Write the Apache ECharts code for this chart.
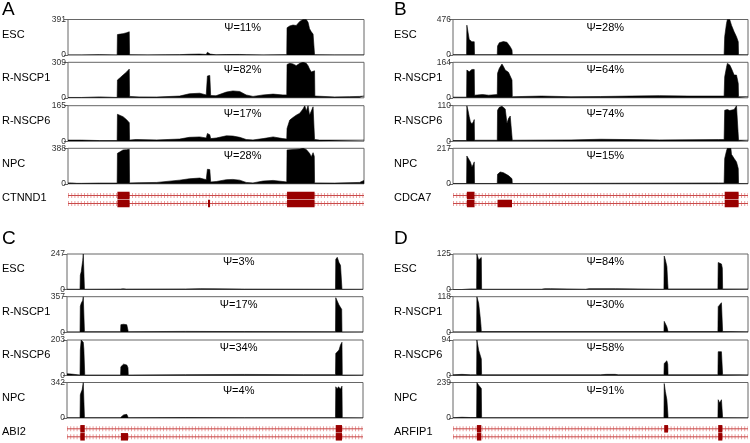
<!DOCTYPE html>
<html><head><meta charset="utf-8">
<script src="https://cdn.jsdelivr.net/npm/echarts@6/dist/echarts.min.js"></script>
<style>html,body{margin:0;padding:0;background:#fff}#c{width:750px;height:443px}</style>
</head><body><div id="c"></div>
<script>
// ---------- DATA ----------
const trackNames = ['ESC','R-NSCP1','R-NSCP6','NPC'];
const panelLetters = ['A','B','C','D'];
const geneNames = ['CTNND1','CDCA7','ABI2','ARFIP1'];
const maxA = [391,309,165,388];
const maxB = [476,164,110,217];
const maxC = [247,357,203,342];
const maxD = [125,118,94,239];
const psiA = ['Ψ=11%','Ψ=82%','Ψ=17%','Ψ=28%'];
const psiB = ['Ψ=28%','Ψ=64%','Ψ=74%','Ψ=15%'];
const psiC = ['Ψ=3%','Ψ=17%','Ψ=34%','Ψ=4%'];
const psiD = ['Ψ=84%','Ψ=30%','Ψ=58%','Ψ=91%'];

// coverage [position %, reads]
const covA_ESC = [[0,0],[4.5,0],[4.6,4],[10.6,4],[10.7,0],[16.6,0],[16.7,225],[17.6,230],[18.6,235],[19.8,245],[20.7,256],[20.8,2],[27,1],[33,2],[37.7,4],[41,8],[44.5,10],[46.7,6],[47.1,30],[47.4,25],[48,10],[48.2,3],[50,2],[53.5,5],[58,6],[60.2,4],[60.3,0],[65.9,0],[66,3],[72.6,3],[73.9,3],[74,300],[74.9,320],[76,330],[77.1,325],[78.3,370],[79.4,391],[80.5,391],[81.1,360],[81.6,290],[82.2,255],[82.5,270],[82.8,230],[83.2,235],[83.3,2],[90,1],[100,1]];
const covA_RN1 = [[0,3],[4.5,3],[5,8],[10.7,8],[11,3],[16.6,3],[16.7,155],[17.6,175],[18.6,198],[19.8,225],[20.7,250],[20.8,12],[24,8],[30,7],[37.7,15],[41,35],[44.5,40],[46.7,25],[47.1,190],[47.4,200],[47.9,195],[48.2,20],[50,18],[53.5,50],[55.7,60],[58,55],[60.2,25],[62.5,12],[65.9,25],[69.3,32],[72.6,25],[73.9,25],[74,290],[74.9,300],[76,295],[77.1,280],[78.3,300],[79.4,309],[80.5,300],[81.1,280],[81.6,250],[82.2,225],[82.8,240],[83.3,235],[83.4,15],[90,8],[95,10],[98.5,12],[100,15]];
const covA_RN6 = [[0,5],[4.5,5],[10.7,3],[16.6,3],[16.7,125],[17.6,120],[18.6,114],[19.8,100],[20.7,86],[20.8,5],[23,8],[30,6],[37.7,10],[41,18],[44.5,20],[46.7,15],[47.1,36],[47.9,30],[48.2,12],[50.1,15],[53.5,25],[55.7,24],[58,18],[60.2,8],[62.5,6],[65.9,12],[69.3,20],[72.6,12],[73.9,10],[74,59],[74.9,98],[76,110],[77.1,121],[78.3,130],[79.4,150],[80,165],[80.5,140],[81.1,165],[81.6,121],[82.2,130],[82.8,160],[83.2,160],[83.3,8],[85,5],[100,5]];
const covA_NPC = [[0,10],[1.1,10],[3,5],[4.5,5],[10.7,8],[16.6,8],[16.7,333],[17.6,350],[18.6,370],[19.8,372],[20.7,377],[20.8,10],[24,12],[30,15],[37.7,40],[41,55],[44.5,63],[46.7,45],[47.1,159],[47.9,155],[48.2,20],[50.1,25],[53.5,45],[55.7,48],[58,40],[60.2,15],[62.5,10],[65.9,30],[69.3,37],[72.6,25],[73.9,20],[74,370],[76,375],[78.3,380],[79.4,388],[80.5,375],[81.1,360],[81.6,333],[82.2,296],[82.8,340],[83.2,300],[83.3,10],[90,8],[98.5,15],[100,37]];

const covB_ESC = [[0,3],[4.6,3],[4.7,400],[5.1,380],[5.5,209],[5.9,230],[6.4,178],[6.9,190],[7.2,178],[7.3,3],[15,3],[15.1,120],[15.7,165],[16,178],[17.1,180],[17.7,175],[18.3,170],[18.8,150],[19.4,111],[20,67],[20.1,3],[91.9,3],[92.1,245],[92.7,420],[93,476],[93.8,476],[94.4,400],[95.3,311],[96.1,245],[96.7,178],[96.8,3],[100,3]];
const covB_RN1 = [[0,3],[4.6,3],[4.7,128],[5.5,120],[5.9,115],[6.4,131],[7.2,131],[7.3,12],[10,15],[12.1,12],[15,15],[15.1,113],[15.7,136],[16.6,156],[17.1,145],[17.7,128],[18.3,120],[18.8,118],[19.4,115],[20,82],[20.1,5],[30,8],[40,5],[50,6],[60,8],[70,10],[80,8],[91.9,8],[92.1,97],[92.7,140],[93,159],[93.8,152],[94.4,135],[95.3,105],[96.1,105],[96.7,66],[96.8,5],[100,5]];
const covB_RN6 = [[0,2],[4.6,2],[4.7,110],[5.1,95],[5.5,76],[5.9,60],[6.4,53],[6.9,60],[7.2,67],[7.3,3],[15,3],[15.1,96],[15.7,105],[16.6,108],[17.1,105],[17.7,100],[18.3,55],[18.8,70],[19.4,78],[20,78],[20.1,3],[40,4],[50,6],[60,5],[70,4],[90,5],[91.9,5],[92.1,96],[93,98],[93.8,95],[94.4,91],[95.3,98],[96.1,110],[96.7,107],[96.8,3],[100,3]];
const covB_NPC = [[0,2],[4.6,2],[4.7,170],[5.1,160],[5.9,134],[6.4,103],[6.9,120],[7.2,134],[7.3,2],[15,2],[15.1,58],[16,72],[17.1,68],[17.7,65],[18.8,50],[19.4,40],[20,31],[20.1,2],[90,5],[91.9,5],[92.1,155],[92.7,200],[93,217],[94.2,217],[94.4,180],[95.3,155],[96.1,134],[96.7,93],[96.8,2],[100,2]];

const covC_ESC = [[0,2],[4.4,2],[4.5,100],[4.8,123],[5.1,170],[5.3,200],[5.5,247],[5.8,247],[5.9,2],[18,3],[19,5],[20,3],[40,4],[45,6],[50,5],[60,3],[90.7,2],[90.8,210],[91.3,224],[91.9,187],[92.4,168],[92.8,168],[92.9,2],[100,2]];
const covC_RN1 = [[0,3],[4.4,3],[4.5,260],[4.8,290],[5.3,320],[5.5,357],[5.8,357],[5.9,5],[18.1,5],[18.2,76],[19.1,80],[20.2,75],[20.6,76],[20.7,5],[40,8],[60,6],[90.7,5],[90.8,347],[91.3,330],[91.9,274],[92.4,290],[92.8,230],[92.9,3],[100,3]];
const covC_RN6 = [[0,10],[1.5,8],[2,3],[4.4,3],[4.5,146],[4.8,203],[5.5,190],[5.7,150],[5.9,150],[6,3],[18.1,3],[18.2,50],[19.1,65],[20.2,60],[20.6,45],[20.7,3],[40,5],[60,6],[80,5],[90.7,5],[90.8,126],[91.3,135],[91.9,146],[92.4,175],[92.9,190],[93,3],[100,3]];
const covC_NPC = [[0,2],[4.4,2],[4.5,223],[4.8,250],[5.1,270],[5.5,342],[5.8,342],[5.9,3],[18,3],[18.2,20],[19.1,30],[20.2,35],[20.6,25],[20.7,3],[40,4],[60,3],[90.7,3],[90.8,301],[91.3,280],[91.7,300],[92.4,280],[92.9,307],[93,2],[100,2]];

const covD_ESC = [[0,0],[3,0],[3.1,2],[6,2],[8,2],[8.1,125],[8.4,120],[8.7,104],[9.2,110],[9.6,113],[9.7,1],[30,1],[31,3],[33,3],[33.1,1],[45,1],[46,3],[55,3],[55.1,1],[71.5,1],[71.6,118],[72,104],[72.5,81],[72.8,20],[72.9,2],[80,2],[89.8,2],[89.9,95],[90.4,89],[91,90],[91.3,75],[91.4,2],[100,2]];
const covD_RN1 = [[0,1],[8,1],[8.1,118],[8.7,96],[9.2,52],[9.5,20],[9.6,2],[71.5,2],[71.6,36],[72,33],[72.5,18],[72.9,2],[89.8,2],[89.9,85],[90.4,90],[91,98],[91.3,98],[91.4,2],[100,2]];
const covD_RN6 = [[0,2],[3,3],[6,2],[8,2],[8.1,94],[8.7,67],[9.2,62],[9.6,44],[9.7,2],[50,2],[52,3],[55,3],[56,2],[71.5,2],[71.6,32],[72,36],[72.5,39],[72.8,30],[72.9,2],[89.8,2],[89.9,63],[90.4,58],[91,63],[91.3,62],[91.4,2],[100,2]];
const covD_NPC = [[0,2],[3,5],[6,3],[8,3],[8.1,239],[8.7,221],[9.6,199],[9.7,2],[71.5,2],[71.6,232],[72,177],[72.5,123],[72.8,40],[72.9,2],[89.8,2],[89.9,123],[90.4,101],[91,123],[91.3,115],[91.4,2],[100,2]];

// exons [start %, end %, row] (row 1 = upper transcript, 0 = lower)
const exonsA = [[16.7,20.8,1],[74,83.3,1],[16.7,20.8,0],[47.3,48.0,0],[74,83.3,0]];
const exonsB = [[4.7,7.3,1],[92.1,96.8,1],[4.7,7.3,0],[15.1,20.0,0],[92.1,96.8,0]];
const exonsC = [[4.5,6.0,1],[90.8,92.9,1],[4.5,6.0,0],[18.2,20.6,0],[90.8,92.9,0]];
const exonsD = [[8.1,9.6,1],[71.6,72.9,1],[89.9,91.3,1],[8.1,9.6,0],[89.9,91.3,0]];

// ---------- LAYOUT ----------
const FONT = '"Liberation Sans", Arial, Helvetica, sans-serif';
const panels = [
  {letter:0, left:68, width:296, tops:[19.5,62.3,105.7,148.3], geneTop:191.5, labelX:2, letterY:0, psiFrac:0.59, max:maxA, psi:psiA, cov:[covA_ESC,covA_RN1,covA_RN6,covA_NPC], exons:exonsA, geneY:199},
  {letter:1, left:453, width:295, tops:[19.5,62.3,105.7,148.3], geneTop:191.5, labelX:394, letterY:0, psiFrac:0.516, max:maxB, psi:psiB, cov:[covB_ESC,covB_RN1,covB_RN6,covB_NPC], exons:exonsB, geneY:199},
  {letter:2, left:67, width:296, tops:[254,296.7,340,382.5], geneTop:424.8, labelX:2, letterY:229, psiFrac:0.58, max:maxC, psi:psiC, cov:[covC_ESC,covC_RN1,covC_RN6,covC_NPC], exons:exonsC, geneY:433},
  {letter:3, left:453, width:295, tops:[254,296.7,340,382.5], geneTop:424.8, labelX:394, letterY:229, psiFrac:0.516, max:maxD, psi:psiD, cov:[covD_ESC,covD_RN1,covD_RN6,covD_NPC], exons:exonsD, geneY:433}
];
const TRACK_H = 35.5;

const grid=[], xAxis=[], yAxis=[], series=[], graphic=[];
panels.forEach(p=>{
  graphic.push({type:'text', left:p.labelX, top:p.letterY, style:{text:panelLetters[p.letter], font:'19px '+FONT, fill:'#000'}});
  p.tops.forEach((t,i)=>{
    const gi = grid.length;
    grid.push({left:p.left, top:t, width:p.width, height:TRACK_H, show:true, borderColor:'#666', borderWidth:1, backgroundColor:'transparent'});
    xAxis.push({type:'value', gridIndex:gi, min:0, max:100, show:false});
    yAxis.push({type:'value', gridIndex:gi, min:0, max:p.max[i], interval:p.max[i],
      axisLine:{show:false}, splitLine:{show:false},
      axisTick:{show:true, length:4, lineStyle:{color:'#666'}},
      axisLabel:{show:true, fontSize:8.5, color:'#333', margin:2, fontFamily:FONT, showMinLabel:true, showMaxLabel:true}});
    series.push({type:'line', xAxisIndex:gi, yAxisIndex:gi, data:p.cov[i], showSymbol:false, symbol:'none',
      lineStyle:{color:'#000', width:0.6}, areaStyle:{color:'#000', opacity:1}, silent:true, animation:false, clip:true});
    graphic.push({type:'text', left:p.labelX, top:t+TRACK_H/2-8, style:{text:trackNames[i], font:'11px '+FONT, fill:'#000'}});
    graphic.push({type:'text', x:p.left+p.psiFrac*p.width, y:t+8, style:{text:p.psi[i], font:'11px '+FONT, fill:'#000', align:'center', verticalAlign:'middle'}});
  });
  // gene model
  const gi = grid.length;
  grid.push({left:p.left, top:p.geneTop, width:p.width, height:16, show:false});
  xAxis.push({type:'value', gridIndex:gi, min:0, max:100, show:false});
  yAxis.push({type:'value', gridIndex:gi, min:-0.5, max:1.5, show:false});
  [1,0].forEach(r=>{
    series.push({type:'line', xAxisIndex:gi, yAxisIndex:gi, data:[[0,r],[100,r]], showSymbol:false, symbol:'none',
      lineStyle:{color:'#eaa0a0', width:5, type:[1,2.2]}, silent:true, animation:false, z:1});
    series.push({type:'line', xAxisIndex:gi, yAxisIndex:gi, data:[[0,r],[100,r]], showSymbol:false, symbol:'none',
      lineStyle:{color:'#c84a4a', width:1}, silent:true, animation:false, z:2});
  });
  series.push({type:'custom', xAxisIndex:gi, yAxisIndex:gi, data:p.exons, silent:true, animation:false, z:3,
    renderItem:(params, api)=>{
      const a = api.coord([api.value(0), api.value(2)+0.47]);
      const b = api.coord([api.value(1), api.value(2)-0.47]);
      return {type:'rect', shape:{x:a[0], y:a[1], width:Math.max(b[0]-a[0],1.5), height:b[1]-a[1]}, style:{fill:'#990000'}};
    }});
  graphic.push({type:'text', left:p.labelX, top:p.geneY-7, style:{text:geneNames[p.letter], font:'11px '+FONT, fill:'#000'}});
});

const chart = echarts.init(document.getElementById('c'), null, {renderer:'canvas'});
chart.setOption({animation:false, grid, xAxis, yAxis, series, graphic});
</script></body></html>
